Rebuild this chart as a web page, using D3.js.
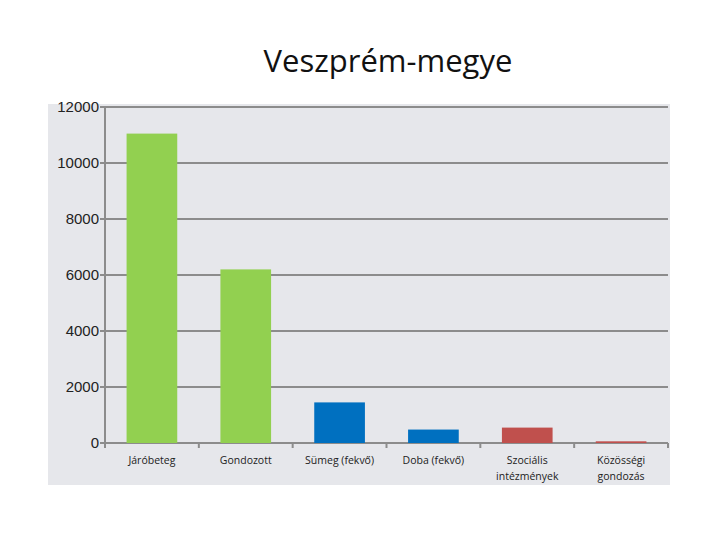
<!doctype html>
<html>
<head>
<meta charset="utf-8">
<script type='text/javascript' src='https://d3js.org/d3.v7.min.js'></script>
<style>body{margin:0;background:#fff}</style>
</head>
<body>
<script>
var width = 720, height = 540;
// data
var categories = ['Járóbeteg', 'Gondozott', 'Sümeg (fekvő)', 'Doba (fekvő)', 'Szociális|intézmények', 'Közösségi|gondozás'];
var values = [11050, 6200, 1450, 480, 550, 60];
var colors = ['#92d050', '#92d050', '#0070c0', '#0070c0', '#c0504d', '#c0504d'];
var yTicks = [0, 2000, 4000, 6000, 8000, 10000, 12000];

var svg = d3.select('body').append('svg').attr('width', width).attr('height', height);
var font = 'Open Sans, Liberation Sans, sans-serif';

// grey panel
svg.append('rect').attr('x', 48).attr('y', 104).attr('width', 622).attr('height', 381).attr('fill', '#e6e7eb');

var x = d3.scaleBand().domain(categories).range([105, 668]).paddingInner(0.46).paddingOuter(0.23);
var y = d3.scaleLinear().domain([0, 12000]).range([443, 107]);

// gridlines
svg.selectAll('.grid').data(yTicks).join('line')
 .attr('x1', 100).attr('x2', 668)
 .attr('y1', function(d){ return y(d) }).attr('y2', function(d){ return y(d) })
 .attr('stroke', '#8c8c8c').attr('stroke-width', 2);

// left axis line
svg.append('line').attr('x1', 105).attr('x2', 105).attr('y1', y(12000)).attr('y2', y(0))
 .attr('stroke', '#8c8c8c').attr('stroke-width', 2);

// category ticks
var bounds = d3.range(categories.length + 1).map(function(i){ return 105 + i * (563 / categories.length) });
svg.selectAll('.ct').data(bounds).join('line')
 .attr('x1', function(d){ return d }).attr('x2', function(d){ return d })
 .attr('y1', y(0)).attr('y2', y(0) + 5)
 .attr('stroke', '#8c8c8c').attr('stroke-width', 2);

// bars
svg.selectAll('.bar').data(values).join('rect')
 .attr('x', function(d, i){ return x(categories[i]) })
 .attr('width', x.bandwidth())
 .attr('y', function(d){ return y(d) })
 .attr('height', function(d){ return y(0) - y(d) })
 .attr('fill', function(d, i){ return colors[i] });

// y tick labels
svg.selectAll('.yl').data(yTicks).join('text')
 .attr('x', 99).attr('y', function(d){ return y(d) + 5 })
 .attr('text-anchor', 'end').attr('font-family', 'Liberation Sans, sans-serif').attr('font-size', 15).attr('fill', '#222')
 .text(function(d){ return d });

// category labels
categories.forEach(function(c){
 var lines = c.split('|');
 var t = svg.append('text').attr('text-anchor', 'middle').attr('font-family', font)
  .attr('font-size', 10.5).attr('fill', '#222');
 lines.forEach(function(l, j){
  t.append('tspan').attr('x', x(c) + x.bandwidth() / 2).attr('y', 464 + j * 16).text(l);
 });
});

// title
svg.append('text').attr('x', 388).attr('y', 72).attr('text-anchor', 'middle')
 .attr('font-family', font).attr('font-size', 31).attr('fill', '#111').text('Veszprém-megye');
</script>
</body>
</html>
